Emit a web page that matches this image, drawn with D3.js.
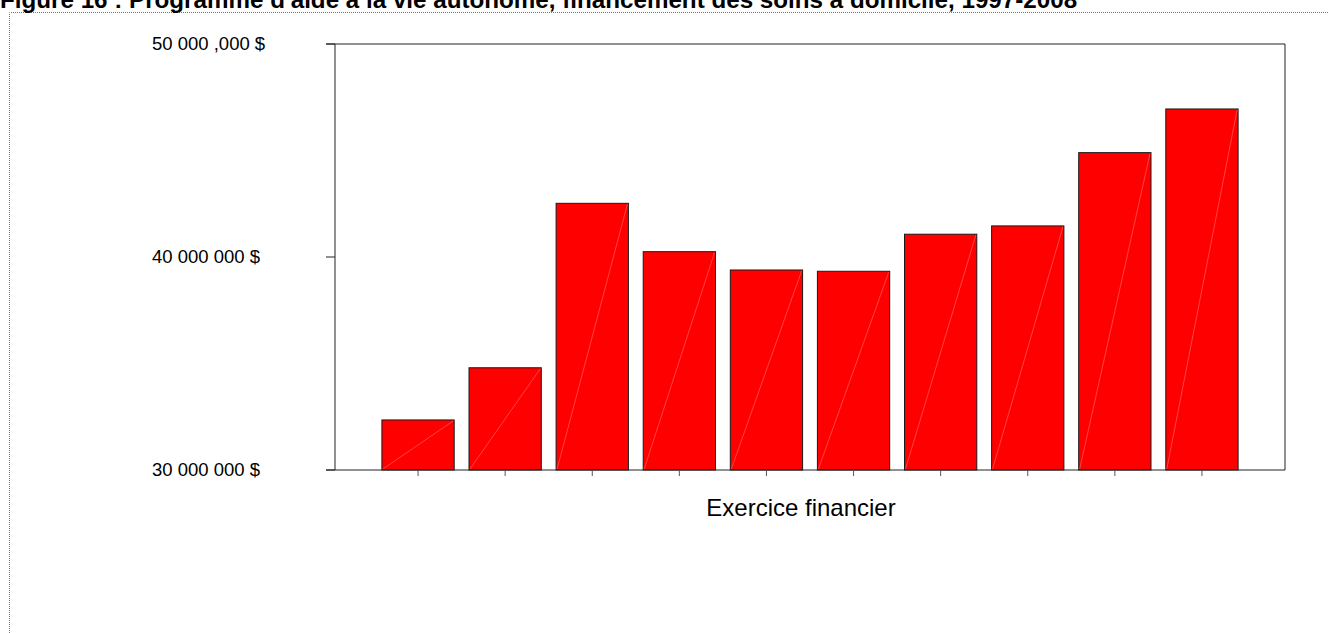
<!DOCTYPE html>
<html lang="fr">
<head>
<meta charset="utf-8">
<script src="https://cdn.jsdelivr.net/npm/d3@7"></script>
<style>
  html, body { margin: 0; padding: 0; background: #fff; overflow: hidden; }
  svg { display: block; font-family: "Liberation Sans", Arial, sans-serif; }
</style>
</head>
<body>
<svg id="chart" width="1329" height="633"></svg>
<script>
// Exercices financiers 1997-1998 à 2006-2007 (dix exercices)
const exercices = ["1997-1998", "1998-1999", "1999-2000", "2000-2001", "2001-2002",
                   "2002-2003", "2003-2004", "2004-2005", "2005-2006", "2006-2007"];
// Financement des soins à domicile ($)
const financement = [32350000, 34800000, 42520000, 40250000, 39390000,
                     39330000, 41070000, 41460000, 44900000, 46950000];
// Graduations de l'axe vertical et leurs libellés
const yTicks = [30000000, 40000000, 50000000];
const yTickLabels = ["30 000 000 $", "40 000 000 $", "50 000 ,000 $"];

const titre = "Figure 16 : Programme d'aide à la vie autonome, financement des soins à domicile, 1997-2008";
const titreAxeX = "Exercice financier";

const svg = d3.select("#chart");

// Cadre pointillé de la figure
svg.append("path")
  .attr("d", "M9.5,633 V12.5 H1329")
  .attr("fill", "none")
  .attr("stroke", "#777")
  .attr("stroke-width", 1)
  .attr("stroke-dasharray", "1,1");

// Titre (coupé en haut)
svg.append("text")
  .attr("x", 0)
  .attr("y", 8)
  .attr("font-size", 24.2)
  .attr("font-weight", "bold")
  .attr("fill", "#000")
  .text(titre);

const plot = { left: 335, right: 1285, top: 44, bottom: 470 };

const y = d3.scaleLinear()
  .domain([30000000, 50000000])
  .range([plot.bottom, plot.top]);

const x = d3.scaleBand()
  .domain(exercices)
  .range([374.5, 1245.5])
  .paddingInner(0.17)
  .paddingOuter(0.085);

// Barres
const bars = svg.append("g");
bars.selectAll("rect")
  .data(financement)
  .join("rect")
  .attr("x", (d, i) => x(exercices[i]))
  .attr("y", d => y(d))
  .attr("width", x.bandwidth())
  .attr("height", d => y(30000000) - y(d))
  .attr("fill", "#ff0000")
  .attr("stroke", "#1a1a1a")
  .attr("stroke-width", 1);

// Fines diagonales claires à l'intérieur des barres
bars.selectAll("line")
  .data(financement)
  .join("line")
  .attr("x1", (d, i) => x(exercices[i]) + 1)
  .attr("y1", y(30000000) - 1)
  .attr("x2", (d, i) => x(exercices[i]) + x.bandwidth() - 1)
  .attr("y2", d => y(d) + 1)
  .attr("stroke", "#ff7070")
  .attr("stroke-width", 0.6);

// Cadre de la zone de tracé
const frame = svg.append("g").attr("fill", "none").attr("stroke", "#222").attr("stroke-width", 1);
frame.append("line").attr("x1", plot.left).attr("x2", plot.left).attr("y1", plot.top).attr("y2", plot.bottom);
frame.append("line").attr("x1", plot.right).attr("x2", plot.right).attr("y1", plot.top).attr("y2", plot.bottom);
frame.append("line").attr("x1", 326).attr("x2", plot.right).attr("y1", plot.top).attr("y2", plot.top);
frame.append("line").attr("x1", 326).attr("x2", plot.right).attr("y1", plot.bottom).attr("y2", plot.bottom);

// Axe vertical : graduations et libellés
const yAxis = svg.append("g");
yAxis.selectAll("line")
  .data(yTicks)
  .join("line")
  .attr("x1", 326).attr("x2", plot.left)
  .attr("y1", d => y(d)).attr("y2", d => y(d))
  .attr("stroke", "#222");
yAxis.selectAll("text")
  .data(yTicks)
  .join("text")
  .attr("x", 152)
  .attr("y", d => y(d))
  .attr("dy", "0.35em")
  .attr("font-size", 18.5)
  .attr("fill", "#000")
  .text((d, i) => yTickLabels[i]);

// Axe horizontal : graduations au centre des barres
const xAxis = d3.axisBottom(x).tickSize(6).tickFormat("");
const gx = svg.append("g")
  .attr("transform", `translate(0,${plot.bottom})`)
  .call(xAxis);
gx.select(".domain").remove();
gx.selectAll(".tick line").attr("stroke", "#555");

// Titre de l'axe horizontal
svg.append("text")
  .attr("x", 801)
  .attr("y", 508)
  .attr("dy", "0.35em")
  .attr("text-anchor", "middle")
  .attr("font-size", 24)
  .attr("fill", "#000")
  .text(titreAxeX);
</script>
</body>
</html>
